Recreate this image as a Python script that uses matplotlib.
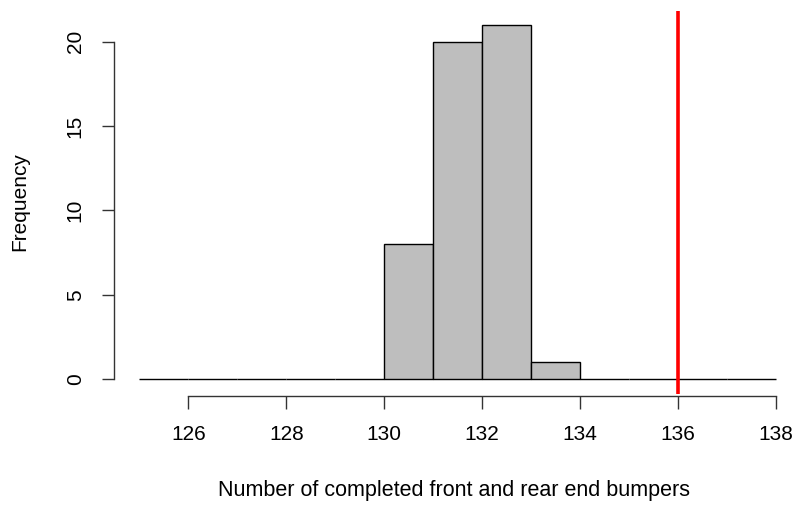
import matplotlib
matplotlib.use("Agg")
import matplotlib.pyplot as plt

plt.rcParams["font.family"] = ["Liberation Sans", "DejaVu Sans"]

# histogram bins (left edges) and counts
bin_edges = [125, 126, 127, 128, 129, 130, 131, 132, 133, 134, 135, 136, 137]
counts = [0, 0, 0, 0, 0, 8, 20, 21, 1, 0, 0, 0, 0]
target = 136
x_ticks = [126, 128, 130, 132, 134, 136, 138]
y_ticks = [0, 5, 10, 15, 20]

W, H = 795, 505
fig = plt.figure(figsize=(W / 100, H / 100), dpi=100)
left_px, right_px, top_px, bottom_px = 114, 795, 10.5, 393.5
ax = fig.add_axes([left_px / W, 1 - bottom_px / H,
                   (right_px - left_px) / W, (bottom_px - top_px) / H])

ax.bar(bin_edges, counts, width=1, align="edge", color="#bebebe",
       edgecolor="black", linewidth=1.0)
ax.axvline(target, color="red", linewidth=2.6)

ax.set_xlim(124.48, 138 + (795 - 776) / 48.92)
ax.set_ylim(-0.84, 21.84)

for s in ["top", "right"]:
    ax.spines[s].set_visible(False)
ax.spines["left"].set_bounds(0, 20)
ax.spines["bottom"].set_bounds(126, 138)
ax.spines["bottom"].set_position(("outward", 1.5))
for s in ["left", "bottom"]:
    ax.spines[s].set_linewidth(1.0)
    ax.spines[s].set_color("#333333")

ax.set_xticks(x_ticks)
ax.set_yticks(y_ticks)
ax.tick_params(axis="both", direction="out", length=9, width=1.0,
               color="#333333", labelsize=15, pad=12)
plt.setp(ax.get_yticklabels(), rotation=90, va="center")

ax.set_xlabel("Number of completed front and rear end bumpers",
              fontsize=15.5, labelpad=26)
ax.set_ylabel("Frequency", fontsize=15, labelpad=26)

fig.savefig("out.png", dpi=100)
